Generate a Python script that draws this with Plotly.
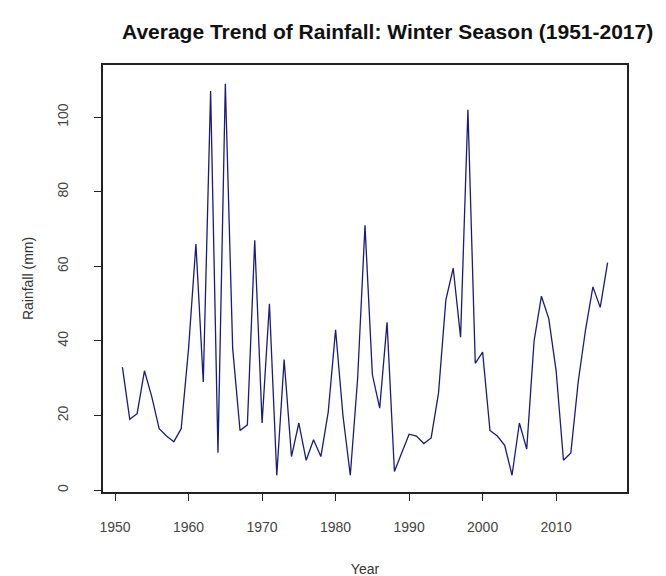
import plotly.graph_objects as go

years = list(range(1951, 2018))
rainfall = [
    33, 19, 20.5, 32, 25, 16.5, 14.5, 13, 16.5, 38,   # 1951-1960
    66, 29, 107, 10, 109, 38, 16, 17.5, 67, 18,       # 1961-1970
    50, 4, 35, 9, 18, 8, 13.5, 9, 21, 43,             # 1971-1980
    20, 4, 30, 71, 31, 22, 45, 5, 10, 15,             # 1981-1990
    14.5, 12.5, 14, 26, 51, 59.5, 41, 102, 34, 37,    # 1991-2000
    16, 14.5, 12, 4, 18, 11, 40, 52, 46, 32,          # 2001-2010
    8, 10, 29, 43, 54.5, 49, 61                       # 2011-2017
]
x_ticks = [1950, 1960, 1970, 1980, 1990, 2000, 2010]
y_ticks = [0, 20, 40, 60, 80, 100]

FONT = "Liberation Sans, Arial, sans-serif"

fig = go.Figure()
fig.add_trace(go.Scatter(
    x=years, y=rainfall, mode="lines",
    line=dict(color="#1a1a80", width=1.3),
    showlegend=False,
))

# the page body adds an 8px offset, so margins are shifted up/left by 8px
fig.update_layout(
    width=666, height=576,
    margin=dict(l=95, r=47, t=57, b=92),
    paper_bgcolor="white", plot_bgcolor="white",
    font=dict(family=FONT, size=14, color="#333333"),
    title=dict(
        text="Average Trend of Rainfall: Winter Season (1951-2017)",
        font=dict(family=FONT, size=21, color="#111111", weight="bold"),
        x=0.570, xanchor="center", xref="container",
        y=1 - 24 / 576, yanchor="middle", yref="container",
    ),
)

fig.update_xaxes(
    range=[1948.36, 2019.64], automargin=False,
    tickvals=x_ticks, ticktext=[str(v) for v in x_ticks],
    ticks="outside", ticklen=7, tickcolor="#222222", tickwidth=1,
    showline=True, linecolor="#222222", linewidth=1.5, mirror=True,
    showgrid=False, zeroline=False,
    tickfont=dict(family=FONT, size=14, color="#444444"),
    ticklabelstandoff=14,
    title=dict(text="Year", font=dict(family=FONT, size=14, color="#333333"), standoff=31),
)
fig.update_yaxes(
    range=[-0.5, 114], automargin=False,
    tickvals=y_ticks, ticktext=[str(v) for v in y_ticks],
    ticks="outside", ticklen=7, tickcolor="#222222", tickwidth=1,
    showline=True, linecolor="#222222", linewidth=1.5, mirror=True,
    showgrid=False, zeroline=False,
    tickangle=-90,
    tickfont=dict(family=FONT, size=14, color="#444444"),
    ticklabelstandoff=21,
    title=dict(text="Rainfall (mm)", font=dict(family=FONT, size=14, color="#333333"), standoff=18),
)

fig.write_html("out.html")
